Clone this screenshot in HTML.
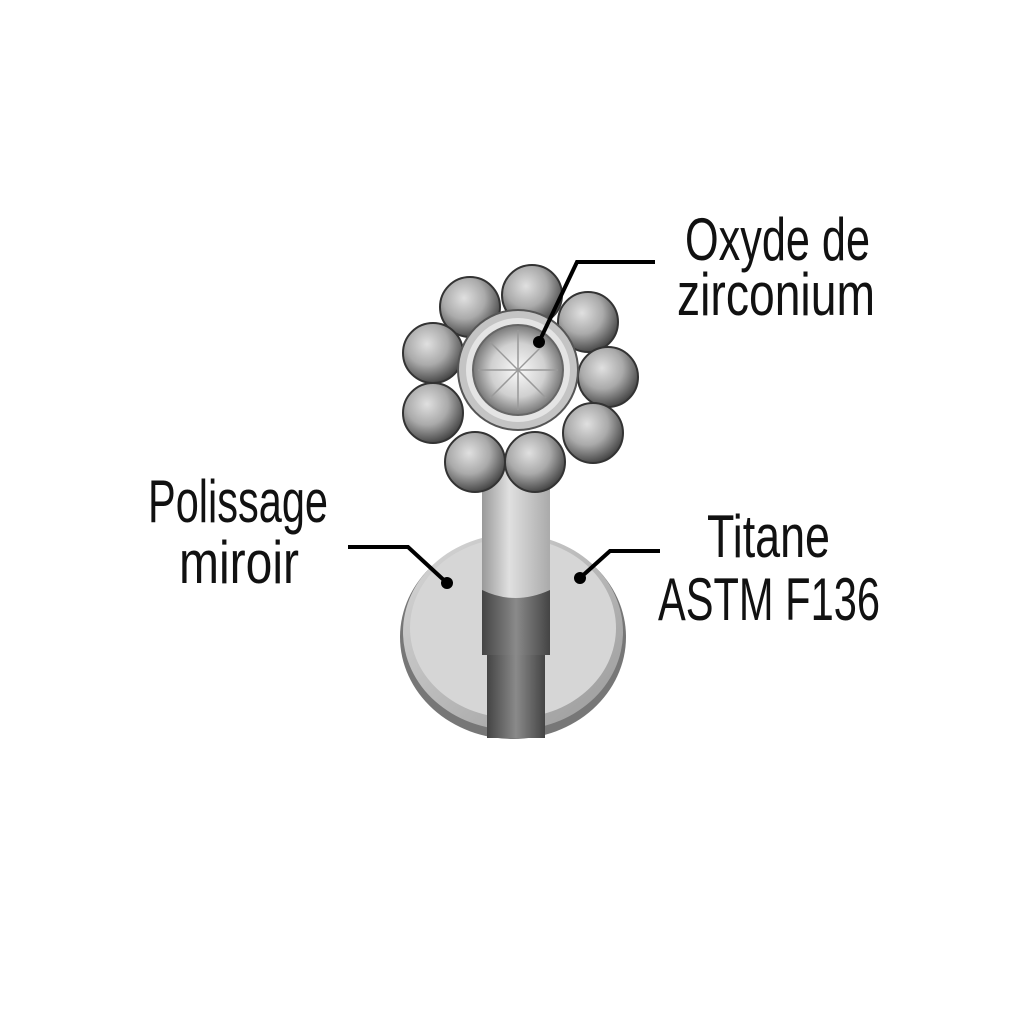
<!DOCTYPE html>
<html><head><meta charset="utf-8"><style>
html,body{margin:0;padding:0;background:#fff;}
svg{display:block;}
text{font-family:"Liberation Sans Narrow","Liberation Sans",sans-serif;fill:#111;}
</style></head><body>
<svg width="1024" height="1024" viewBox="0 0 1024 1024" xmlns="http://www.w3.org/2000/svg">
<defs>
<radialGradient id="ball" cx="0.4" cy="0.35" r="0.7">
<stop offset="0" stop-color="#e0e0e0"/><stop offset="0.5" stop-color="#aaa"/><stop offset="1" stop-color="#3a3a3a"/>
</radialGradient>
<linearGradient id="disc" x1="0" y1="0" x2="1" y2="1">
<stop offset="0" stop-color="#d8d8d8"/><stop offset="1" stop-color="#9a9a9a"/>
</linearGradient>
<linearGradient id="stemL" x1="0" x2="1">
<stop offset="0" stop-color="#999"/><stop offset="0.4" stop-color="#e0e0e0"/><stop offset="1" stop-color="#aaa"/>
</linearGradient>
<linearGradient id="stemD" x1="0" x2="1">
<stop offset="0" stop-color="#444"/><stop offset="0.5" stop-color="#8a8a8a"/><stop offset="1" stop-color="#444"/>
</linearGradient>
<radialGradient id="gem" cx="0.5" cy="0.5" r="0.5">
<stop offset="0" stop-color="#fafafa"/><stop offset="0.6" stop-color="#d0d0d0"/><stop offset="1" stop-color="#777"/>
</radialGradient>
</defs>
<!-- disc -->
<ellipse cx="513" cy="637" rx="113" ry="102" fill="#777"/>
<ellipse cx="513" cy="632" rx="110" ry="98" fill="url(#disc)"/>
<ellipse cx="513" cy="628" rx="103" ry="90" fill="#d6d6d6"/>
<!-- stem -->
<rect x="487" y="640" width="58" height="98" fill="url(#stemD)"/>
<rect x="482" y="575" width="68" height="80" fill="url(#stemD)"/>
<path d="M482 470 L550 470 L550 590 Q515 606 482 590Z" fill="url(#stemL)"/>
<!-- balls -->
<g stroke="#333" stroke-width="2">
<circle cx="470" cy="307" r="30" fill="url(#ball)"/>
<circle cx="532" cy="295" r="30" fill="url(#ball)"/>
<circle cx="588" cy="322" r="30" fill="url(#ball)"/>
<circle cx="433" cy="353" r="30" fill="url(#ball)"/>
<circle cx="608" cy="377" r="30" fill="url(#ball)"/>
<circle cx="433" cy="413" r="30" fill="url(#ball)"/>
<circle cx="593" cy="433" r="30" fill="url(#ball)"/>
<circle cx="475" cy="462" r="30" fill="url(#ball)"/>
<circle cx="535" cy="462" r="30" fill="url(#ball)"/>
</g>
<circle cx="518" cy="370" r="60" fill="#c4c4c4" stroke="#555" stroke-width="2"/>
<circle cx="518" cy="370" r="52" fill="#e4e4e4"/>
<circle cx="518" cy="370" r="45" fill="url(#gem)" stroke="#666" stroke-width="2"/>
<g stroke="#999" stroke-width="1.5">
<line x1="478" y1="370" x2="558" y2="370"/><line x1="518" y1="330" x2="518" y2="410"/>
<line x1="490" y1="342" x2="546" y2="398"/><line x1="546" y1="342" x2="490" y2="398"/>
</g>
<!-- leaders -->
<g stroke="#000" stroke-width="4" fill="none">
<polyline points="539,342 577,262 655,262"/>
<polyline points="348,547 408,547 447,583"/>
<polyline points="580,578 610,551 660,551"/>
</g>
<circle cx="539" cy="342" r="6" fill="#000"/>
<circle cx="447" cy="583" r="6" fill="#000"/>
<circle cx="580" cy="578" r="6" fill="#000"/>
<!-- labels -->
<text x="685" y="260" font-size="60" textLength="185" lengthAdjust="spacingAndGlyphs">Oxyde de</text>
<text x="677" y="315" font-size="60" textLength="198" lengthAdjust="spacingAndGlyphs">zirconium</text>
<text x="148" y="522" font-size="60" textLength="180" lengthAdjust="spacingAndGlyphs">Polissage</text>
<text x="179" y="583" font-size="60" textLength="120" lengthAdjust="spacingAndGlyphs">miroir</text>
<text x="707" y="557" font-size="60" textLength="123" lengthAdjust="spacingAndGlyphs">Titane</text>
<text x="658" y="620" font-size="60" textLength="222" lengthAdjust="spacingAndGlyphs">ASTM F136</text>
</svg>
</body></html>
